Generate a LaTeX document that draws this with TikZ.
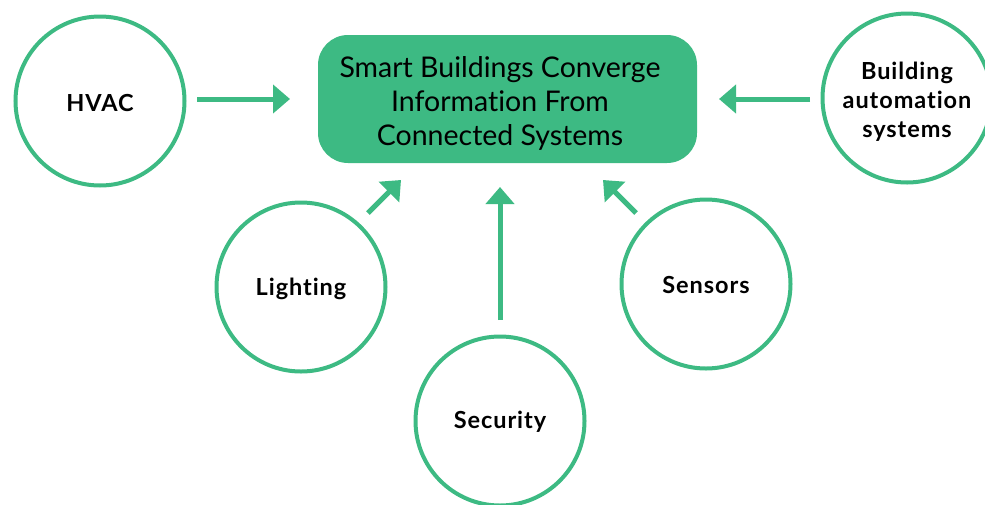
\documentclass[tikz,border=0pt]{standalone}
\usepackage{fontspec}
\setmainfont{Lato}[Ligatures=NoCommon]
\newfontfamily\labfont{Lato}[Ligatures=NoCommon,LetterSpace=4]
\usetikzlibrary{arrows.meta}
\definecolor{sgreen}{RGB}{61,186,131}
\begin{document}
\begin{tikzpicture}[x=1pt,y=-1pt,
  sys/.style={circle,draw=sgreen,line width=4pt,minimum size=169pt,inner sep=0pt},
  lab/.style={font=\labfont\fontsize{23.5}{29}\selectfont\bfseries,align=center,text=black},
  hub/.style={rounded corners=30pt,fill=sgreen,minimum width=379pt,minimum height=128pt},
  hubtext/.style={font=\fontsize{28.5}{34}\selectfont,align=center,text=black},
  flow/.style={draw=sgreen,line width=5pt,-{Triangle[length=17pt,width=28pt]}}]
\useasboundingbox (0,0) rectangle (985,504);
\node[hub] (box) at (507.5,99) {};
\node[hubtext] (boxtext) at (500,103) {Smart Buildings Converge\\Information From\\Connected Systems};
\node[sys] (hvac) at (100,101) {};
\node[lab] (hvactext) at (100,103) {HVAC};
\node[sys] (bas) at (907,98) {};
\node[lab] (bastext) at (907,102) {Building\\automation\\systems};
\node[sys] (light) at (301,287) {};
\node[lab] (lighttext) at (301,289) {Lighting};
\node[sys] (sens) at (706,284) {};
\node[lab] (senstext) at (706,285) {Sensors};
\node[sys] (sec) at (500,421) {};
\node[lab] (sectext) at (500,422) {Security};
\coordinate (a1) at (197,99); \coordinate (t1) at (290,99);
\coordinate (a2) at (810,99); \coordinate (t2) at (719,99);
\coordinate (a3) at (368,213); \coordinate (t3) at (401,180);
\coordinate (a4) at (500,320); \coordinate (t4) at (500,187);
\coordinate (a5) at (636,213); \coordinate (t5) at (603,180);
\draw[flow] (a1) -- (t1);
\draw[flow] (a2) -- (t2);
\draw[flow] (a3) -- (t3);
\draw[flow] (a4) -- (t4);
\draw[flow] (a5) -- (t5);
\end{tikzpicture}
\end{document}
